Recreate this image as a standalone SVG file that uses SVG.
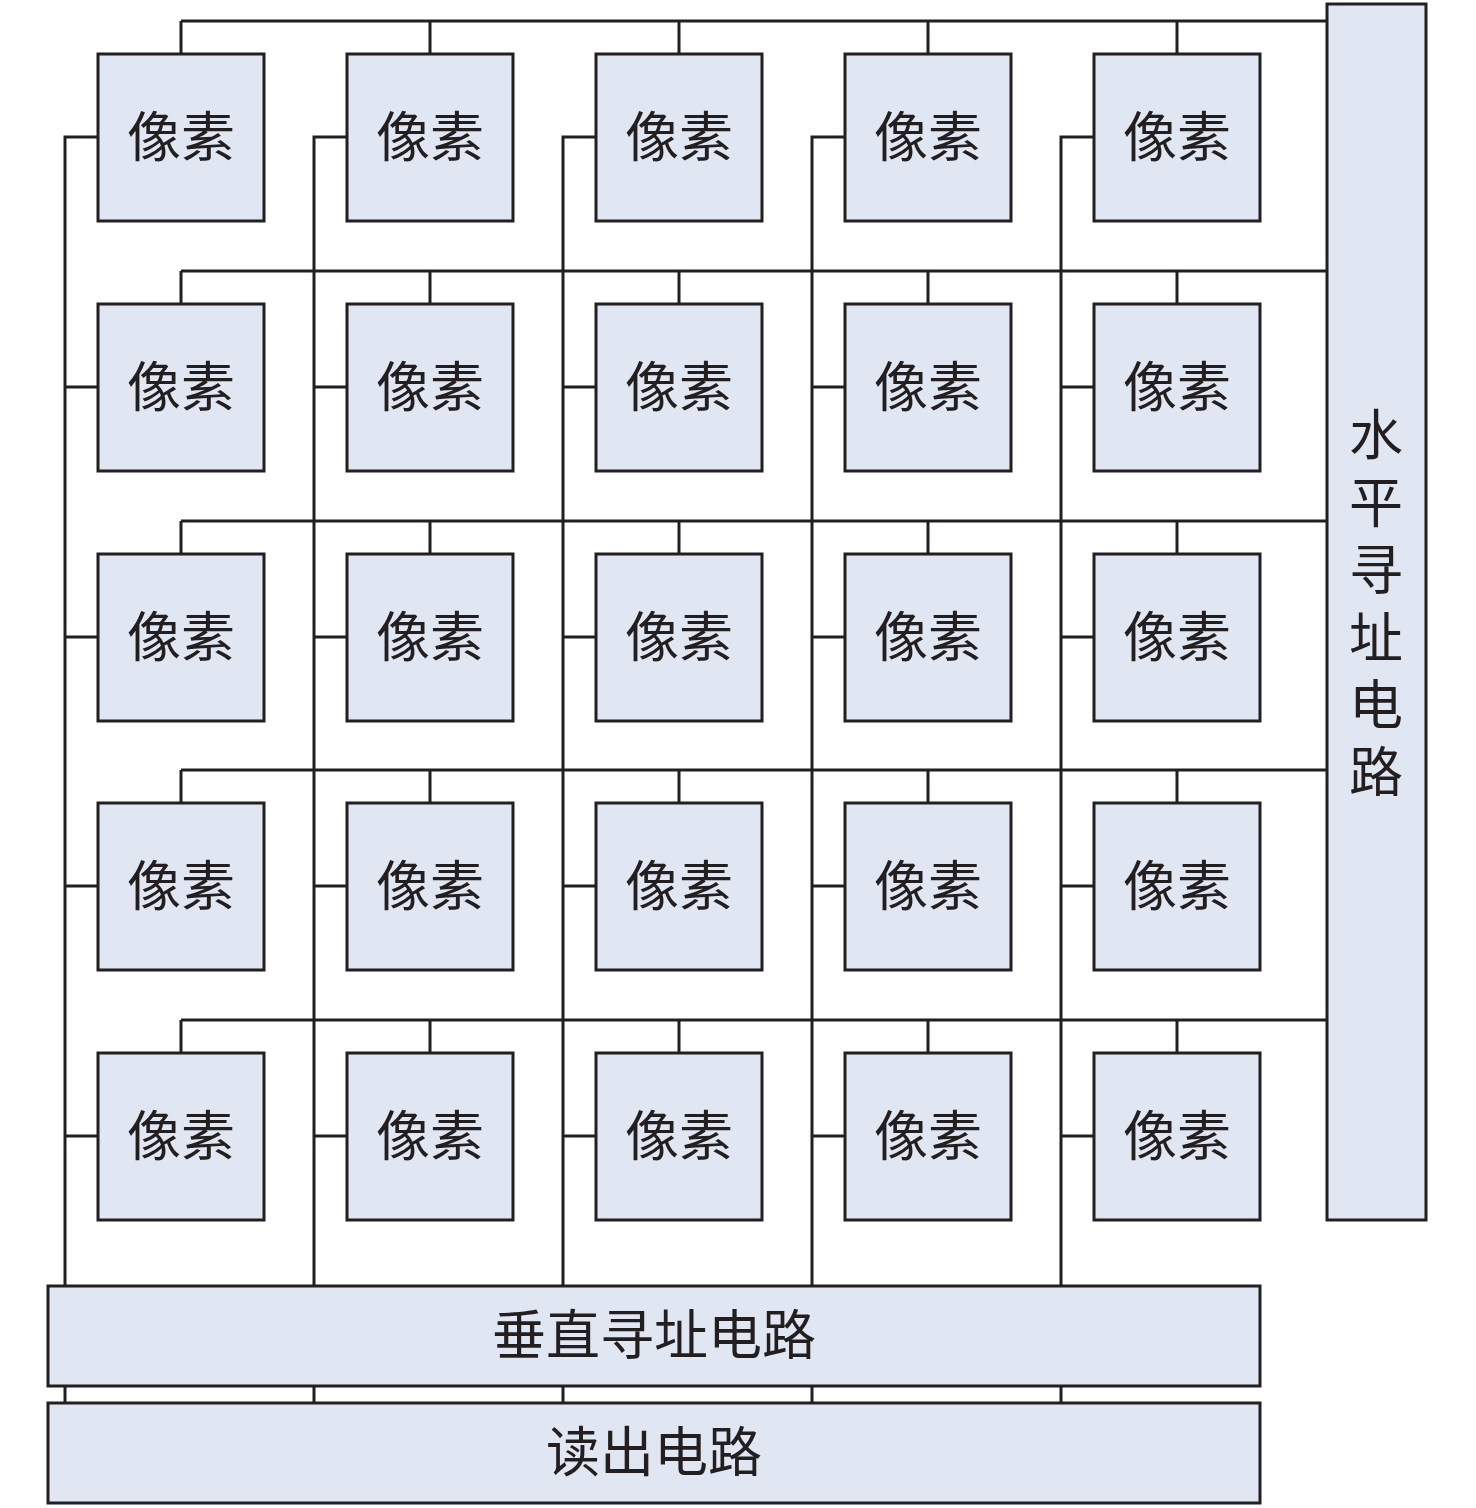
<svg xmlns="http://www.w3.org/2000/svg" width="1476" height="1508" viewBox="0 0 1476 1508">
<style>
.box{fill:#E0E6F2;stroke:#231F20;stroke-width:3}
.w{fill:none;stroke:#231F20;stroke-width:3}
.t{font-family:"Noto Sans CJK SC","Noto Sans CJK JP",sans-serif;font-size:54px;fill:#231F20;text-anchor:middle;dominant-baseline:central}
.v{font-family:"Noto Sans CJK SC","Noto Sans CJK JP",sans-serif;font-size:54px;fill:#231F20;text-anchor:middle;writing-mode:vertical-rl;letter-spacing:13.4px}
</style>
<rect width="1476" height="1508" fill="#ffffff"/>
<g id="connectors" class="w">
<path d="M181 21H1327M181 271H1327M181 521H1327M181 770H1327M181 1020H1327"/>
<path d="M181 21V54M430 21V54M679 21V54M928 21V54M1177 21V54"/>
<path d="M181 271V304M430 271V304M679 271V304M928 271V304M1177 271V304"/>
<path d="M181 521V554M430 521V554M679 521V554M928 521V554M1177 521V554"/>
<path d="M181 770V803M430 770V803M679 770V803M928 770V803M1177 770V803"/>
<path d="M181 1020V1053M430 1020V1053M679 1020V1053M928 1020V1053M1177 1020V1053"/>
<path d="M98 137H65V1286M347 137H314V1286M596 137H563V1286M845 137H812V1286M1094 137H1061V1286"/>
<path d="M65 387H98M314 387H347M563 387H596M812 387H845M1061 387H1094"/>
<path d="M65 637H98M314 637H347M563 637H596M812 637H845M1061 637H1094"/>
<path d="M65 886H98M314 886H347M563 886H596M812 886H845M1061 886H1094"/>
<path d="M65 1136H98M314 1136H347M563 1136H596M812 1136H845M1061 1136H1094"/>
<path d="M65 1386V1403M314 1386V1403M563 1386V1403M812 1386V1403M1061 1386V1403"/>
</g>
<g id="pixels">
<g id="p11"><rect class="box" x="98" y="54" width="166" height="167"/><text class="t" x="181" y="133">像素</text></g>
<g id="p12"><rect class="box" x="347" y="54" width="166" height="167"/><text class="t" x="430" y="133">像素</text></g>
<g id="p13"><rect class="box" x="596" y="54" width="166" height="167"/><text class="t" x="679" y="133">像素</text></g>
<g id="p14"><rect class="box" x="845" y="54" width="166" height="167"/><text class="t" x="928" y="133">像素</text></g>
<g id="p15"><rect class="box" x="1094" y="54" width="166" height="167"/><text class="t" x="1177" y="133">像素</text></g>
<g id="p21"><rect class="box" x="98" y="304" width="166" height="167"/><text class="t" x="181" y="383">像素</text></g>
<g id="p22"><rect class="box" x="347" y="304" width="166" height="167"/><text class="t" x="430" y="383">像素</text></g>
<g id="p23"><rect class="box" x="596" y="304" width="166" height="167"/><text class="t" x="679" y="383">像素</text></g>
<g id="p24"><rect class="box" x="845" y="304" width="166" height="167"/><text class="t" x="928" y="383">像素</text></g>
<g id="p25"><rect class="box" x="1094" y="304" width="166" height="167"/><text class="t" x="1177" y="383">像素</text></g>
<g id="p31"><rect class="box" x="98" y="554" width="166" height="167"/><text class="t" x="181" y="633">像素</text></g>
<g id="p32"><rect class="box" x="347" y="554" width="166" height="167"/><text class="t" x="430" y="633">像素</text></g>
<g id="p33"><rect class="box" x="596" y="554" width="166" height="167"/><text class="t" x="679" y="633">像素</text></g>
<g id="p34"><rect class="box" x="845" y="554" width="166" height="167"/><text class="t" x="928" y="633">像素</text></g>
<g id="p35"><rect class="box" x="1094" y="554" width="166" height="167"/><text class="t" x="1177" y="633">像素</text></g>
<g id="p41"><rect class="box" x="98" y="803" width="166" height="167"/><text class="t" x="181" y="882">像素</text></g>
<g id="p42"><rect class="box" x="347" y="803" width="166" height="167"/><text class="t" x="430" y="882">像素</text></g>
<g id="p43"><rect class="box" x="596" y="803" width="166" height="167"/><text class="t" x="679" y="882">像素</text></g>
<g id="p44"><rect class="box" x="845" y="803" width="166" height="167"/><text class="t" x="928" y="882">像素</text></g>
<g id="p45"><rect class="box" x="1094" y="803" width="166" height="167"/><text class="t" x="1177" y="882">像素</text></g>
<g id="p51"><rect class="box" x="98" y="1053" width="166" height="167"/><text class="t" x="181" y="1132">像素</text></g>
<g id="p52"><rect class="box" x="347" y="1053" width="166" height="167"/><text class="t" x="430" y="1132">像素</text></g>
<g id="p53"><rect class="box" x="596" y="1053" width="166" height="167"/><text class="t" x="679" y="1132">像素</text></g>
<g id="p54"><rect class="box" x="845" y="1053" width="166" height="167"/><text class="t" x="928" y="1132">像素</text></g>
<g id="p55"><rect class="box" x="1094" y="1053" width="166" height="167"/><text class="t" x="1177" y="1132">像素</text></g>
</g>
<g id="horizontal-addressing">
<rect class="box" x="1327" y="4" width="99" height="1216"/>
<text class="v" x="1376" y="610">水平寻址电路</text>
</g>
<g id="vertical-addressing">
<rect class="box" x="48" y="1286" width="1212" height="100"/>
<text class="t" x="654" y="1331">垂直寻址电路</text>
</g>
<g id="readout">
<rect class="box" x="48" y="1403" width="1212" height="100"/>
<text class="t" x="654" y="1448">读出电路</text>
</g>
</svg>
